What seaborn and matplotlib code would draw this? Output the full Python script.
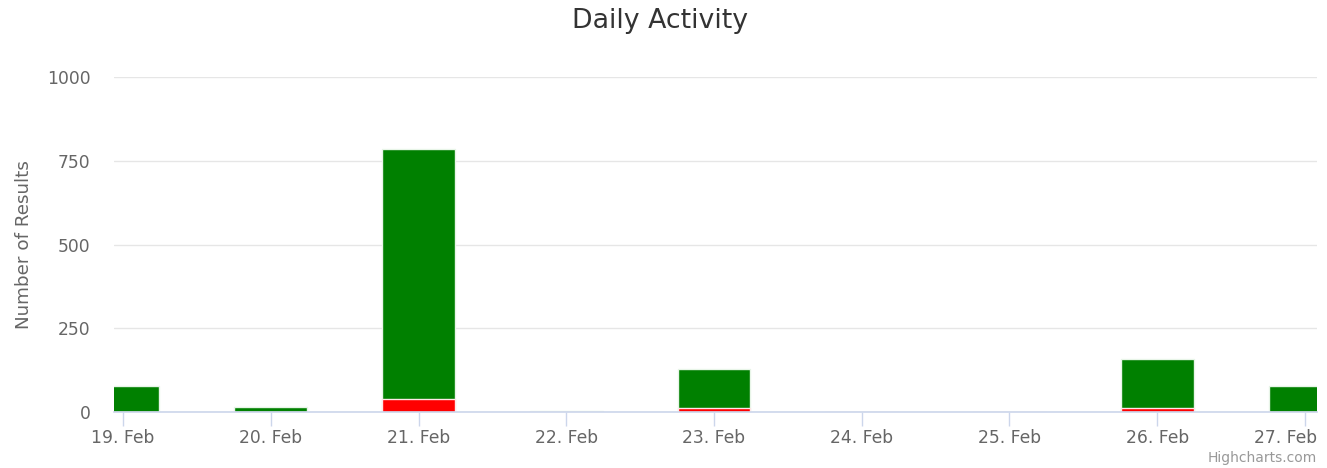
import matplotlib
matplotlib.use("Agg")
import matplotlib.pyplot as plt
import matplotlib.transforms as mtransforms
import seaborn as sns
import pandas as pd

days = ["19. Feb", "20. Feb", "21. Feb", "22. Feb", "23. Feb", "24. Feb", "25. Feb", "26. Feb", "27. Feb"]
failed = [1, 1, 40, 0, 12, 0, 0, 13, 1]
passed = [77, 14, 745, 2, 116, 1, 0, 145, 77]

totals = [f + p for f, p in zip(failed, passed)]
df = pd.DataFrame({"day": days, "total": totals, "failed": failed})

sns.set_theme(style="white")
plt.rcParams["font.family"] = ["DejaVu Sans"]

W, H = 1327, 468
fig = plt.figure(figsize=(W / 100, H / 100), dpi=100)
ax = fig.add_axes([114 / W, (H - 412) / H, (1317 - 114) / W, (412 - 77) / H])

sns.barplot(data=df, x="day", y="total", color="#008000", saturation=1, width=0.494,
            edgecolor="#e8f5e8", linewidth=1, ax=ax, zorder=3)
sns.barplot(data=df, x="day", y="failed", color="#ff0000", saturation=1, width=0.494,
            edgecolor="#ffe8e8", linewidth=1, ax=ax, zorder=4)

step = 147.7
ax.set_xlim(-(123 - 114) / step, 8 + (1317 - 1305) / step)
ax.set_ylim(0, 1000)
ax.set_yticks([0, 250, 500, 750, 1000])
ax.set_yticklabels(["0", "250", "500", "750", "1000"])
ax.yaxis.grid(True, color="#e6e6e6", linewidth=1, zorder=0)
ax.xaxis.grid(False)
for s in ["top", "right", "left"]:
    ax.spines[s].set_visible(False)
ax.spines["bottom"].set_color("#ccd6eb")
ax.spines["bottom"].set_linewidth(1.2)
ax.spines["bottom"].set_zorder(5)
ax.tick_params(axis="x", bottom=True, length=10, width=1, color="#ccd6eb", labelsize=12.3,
               labelcolor="#666666", pad=2)
ax.tick_params(axis="y", left=False, length=0, labelsize=12.3, labelcolor="#666666", pad=17)
ax.set_xlabel("")
ax.set_ylabel("Number of Results", fontsize=13.2, color="#666666", labelpad=10)
ax.set_axisbelow(True)

labels = ax.get_xticklabels()
last = labels[-1]
last.set_ha("right")
last.set_transform(last.get_transform() + mtransforms.ScaledTranslation(12 / 100, 0, fig.dpi_scale_trans))

fig.text(660 / W, 1 - 21 / H, "Daily Activity", ha="center", va="center", fontsize=19.3, color="#333333")
fig.text(1317 / W, (H - 458) / H, "Highcharts.com", ha="right", va="center",
         fontsize=10, color="#999999")

fig.savefig("out.png", dpi=100)
